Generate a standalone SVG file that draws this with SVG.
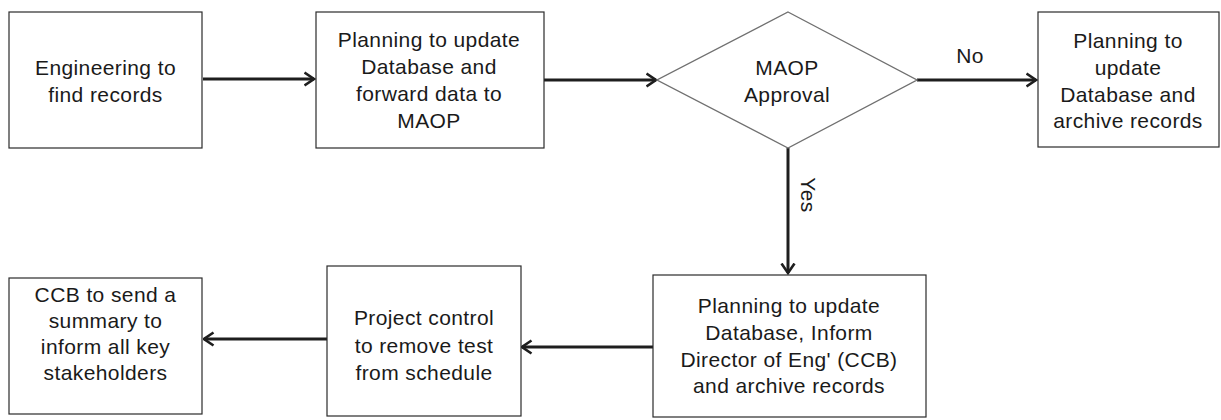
<svg xmlns="http://www.w3.org/2000/svg" width="1221" height="420" viewBox="0 0 1221 420">
  <style>
    .box { fill: #ffffff; stroke: #2b2b2b; stroke-width: 1.2; }
    .dia { fill: #ffffff; stroke: #707070; stroke-width: 1.4; }
    .lbl { font-family: "Liberation Sans", Arial, sans-serif; font-size: 21px; fill: #1a1a1a; text-anchor: middle; letter-spacing: 0.4px; }
    .edge { stroke: #1e1e1e; stroke-width: 3; fill: none; marker-end: url(#arrow); }
  </style>
  <defs>
    <marker id="arrow" viewBox="0 0 12 16" refX="10.5" refY="8" markerWidth="12" markerHeight="16" markerUnits="userSpaceOnUse" orient="auto">
      <path d="M1,1.5 L10.5,8 L1,14.5" fill="none" stroke="#1e1e1e" stroke-width="2.6" stroke-linejoin="miter"/>
    </marker>
  </defs>
  <rect width="1221" height="420" fill="#ffffff"/>

  <g id="connectors">
    <line class="edge" x1="203" y1="79" x2="314" y2="79"/>
    <line class="edge" x1="544" y1="80" x2="656" y2="80"/>
    <line class="edge" x1="917" y1="80" x2="1036" y2="80"/>
    <line class="edge" x1="788" y1="148" x2="788" y2="273"/>
    <line class="edge" x1="653" y1="347" x2="522" y2="347"/>
    <line class="edge" x1="327" y1="339" x2="204" y2="339"/>
    <text class="lbl" x="970" y="63">No</text>
    <text class="lbl" transform="translate(801,195) rotate(90)">Yes</text>
  </g>

  <g id="engineering">
    <rect class="box" x="9" y="12" width="193" height="136"/>
    <text class="lbl" x="105.5" y="75">Engineering to</text>
    <text class="lbl" x="105.5" y="102">find records</text>
  </g>

  <g id="planning-forward">
    <rect class="box" x="316" y="12" width="228" height="136"/>
    <text class="lbl" x="429" y="47">Planning to update</text>
    <text class="lbl" x="429" y="74">Database and</text>
    <text class="lbl" x="429" y="101">forward data to</text>
    <text class="lbl" x="429" y="128">MAOP</text>
  </g>

  <g id="maop-approval">
    <polygon class="dia" points="788,12 917,80 788,148 657,80"/>
    <text class="lbl" x="787" y="75">MAOP</text>
    <text class="lbl" x="787" y="102">Approval</text>
  </g>

  <g id="planning-archive">
    <rect class="box" x="1038" y="12" width="181" height="135"/>
    <text class="lbl" x="1128" y="48">Planning to</text>
    <text class="lbl" x="1128" y="75">update</text>
    <text class="lbl" x="1128" y="102">Database and</text>
    <text class="lbl" x="1128" y="128">archive records</text>
  </g>

  <g id="planning-inform">
    <rect class="box" x="653" y="275" width="273" height="142"/>
    <text class="lbl" x="789" y="313">Planning to update</text>
    <text class="lbl" x="789" y="340">Database, Inform</text>
    <text class="lbl" x="789" y="367">Director of Eng' (CCB)</text>
    <text class="lbl" x="789" y="393">and archive records</text>
  </g>

  <g id="project-control">
    <rect class="box" x="327" y="266" width="194" height="150"/>
    <text class="lbl" x="424" y="325">Project control</text>
    <text class="lbl" x="424" y="353">to remove test</text>
    <text class="lbl" x="424" y="380">from schedule</text>
  </g>

  <g id="ccb-summary">
    <rect class="box" x="9" y="278" width="193" height="136"/>
    <text class="lbl" x="105.5" y="302">CCB to send a</text>
    <text class="lbl" x="105.5" y="328">summary to</text>
    <text class="lbl" x="105.5" y="354">inform all key</text>
    <text class="lbl" x="105.5" y="380">stakeholders</text>
  </g>
</svg>
